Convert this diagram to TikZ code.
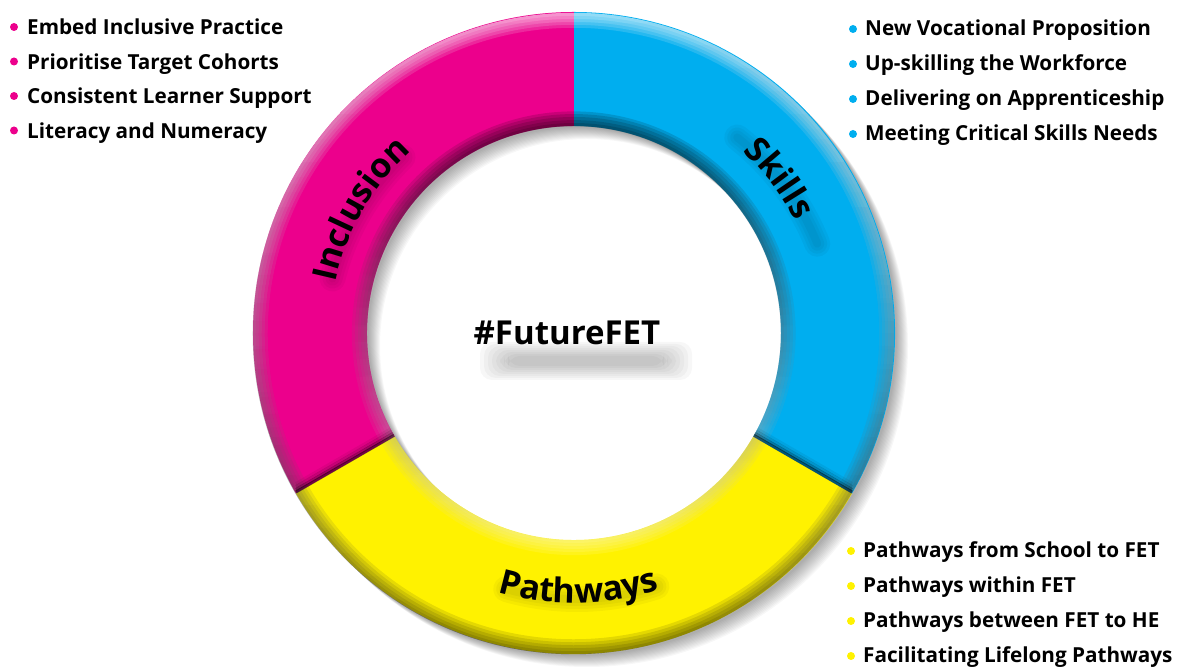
\documentclass[tikz,border=0pt]{standalone}
\usepackage{fontspec}
\setmainfont{Open Sans}
\usepackage{tikz}
\usetikzlibrary{calc}
\usetikzlibrary{fadings}
\usetikzlibrary{decorations.text}

\definecolor{inclpink}{HTML}{EC008C}
\definecolor{skillblue}{HTML}{00AEEF}
\definecolor{pathyellow}{HTML}{FFF200}
\tikzfading[name=fadetop,top color=transparent!0,middle color=transparent!100,bottom color=transparent!100]
\tikzfading[name=fadebottom,top color=transparent!100,middle color=transparent!100,bottom color=transparent!0]
\newcommand{\labelfont}{\bfseries\fontsize{34}{40}\selectfont}

\begin{document}
\begin{tikzpicture}[x=1pt,y=1pt,
		item/.style={anchor=base west,inner sep=0pt,font=\bfseries\fontsize{20.7}{25}\selectfont},
		dot/.style={circle,inner sep=0pt,minimum size=8pt},
		softshd/.style={black,opacity=.035,line cap=round}]
	\useasboundingbox (0,0) rectangle (1178,668);
	\coordinate (c) at (574,335);
	\def\Ro{321}\def\Ri{207}
	%%%%%%%%%%%%%%% shadow of the ring
	\foreach \s in {2,3,...,13}
		\fill[black,opacity=.03,even odd rule] ($(c)+(\s,-\s)$) circle[radius=\Ro] ($(c)+(\s,-\s)$) circle[radius=\Ri];
	%%%%%%%%%%%%%%% the three parts
	\foreach \col/\a/\b in {inclpink/90/210,pathyellow/210/330,skillblue/-30/90}
		\fill[\col] ($(c)+(\a:\Ro)$) arc[start angle=\a,end angle=\b,radius=\Ro]
			-- ($(c)+(\b:\Ri)$) arc[start angle=\b,end angle=\a,radius=\Ri] -- cycle;
	%%%%%%%%%%%%%%% bevel
	\foreach \w in {3,6,...,15}{
		\pgfmathsetmacro{\ro}{\Ro-\w}
		\pgfmathsetmacro{\ri}{\Ri+\w}
		\fill[white,fill opacity=.16,path fading=fadetop,even odd rule] (c) circle[radius=\Ro] (c) circle[radius=\ro];
		\fill[black,fill opacity=.11,path fading=fadebottom,even odd rule] (c) circle[radius=\Ro] (c) circle[radius=\ro];
		\fill[black,fill opacity=.14,path fading=fadetop,even odd rule] (c) circle[radius=\ri] (c) circle[radius=\Ri];
		\fill[white,fill opacity=.10,path fading=fadebottom,even odd rule] (c) circle[radius=\ri] (c) circle[radius=\Ri];
	}
	\begin{scope}[even odd rule]
		\clip (c) circle[radius=\Ro] (c) circle[radius=\Ri];
		\foreach \a in {210,-30}
			\foreach \d/\o in {1.5/.5,4/.3,7/.15,10/.06}
				\draw[line width=3pt,black,opacity=\o] ($(c)+(\a:\Ri)+(0,\d)$) -- ($(c)+(\a:\Ro)+(0,\d)$);
	\end{scope}
	%%%%%%%%%%%%%%% labels on the ring
	\foreach \w in {8,14,20,26}{
		\draw[softshd,line width=\w] ($(c)+(5,-7)+(166:254)$) arc[start angle=166,end angle=134,radius=254];
		\draw[softshd,line width=\w] ($(c)+(5,-7)+(52:257)$) arc[start angle=52,end angle=22,radius=257];
		\draw[softshd,line width=\w] ($(c)+(3,-9)+(-106:257)$) arc[start angle=-106,end angle=-72,radius=257];
	}
	\path[decorate,decoration={text along path,text align=center,text={|\labelfont|Inclusion}}]
		($(c)+(190:244)$) arc[start angle=190,end angle=110,radius=244];
	\path[decorate,decoration={text along path,text align=center,text={|\labelfont|Skills}}]
		($(c)+(77:248)$) arc[start angle=77,end angle=-3,radius=248];
	\path[decorate,decoration={text along path,text align=center,text={|\labelfont|Pathways}}]
		($(c)+(-130:270)$) arc[start angle=-130,end angle=-48,radius=270];
	%%%%%%%%%%%%%%% centre
	\foreach \k in {0,...,7}
		\fill[black,opacity=.03,rounded corners=12] ({480+4*\k},{288+2*\k}) rectangle ({692-4*\k},{326-2*\k});
	\node[anchor=base,font=\bfseries\fontsize{33}{38}\selectfont] (fet) at (567,323) {\#FutureFET};
	%%%%%%%%%%%%%%% lists
	\foreach \t [count=\i] in {Embed Inclusive Practice,Prioritise Target Cohorts,Consistent Learner Support,Literacy and Numeracy}{
		\node[item] (incl\i) at (27,{633-34.5*(\i-1)}) {\t};
		\node[dot,fill=inclpink] (incldot\i) at ($(incl\i.base west)+(-13,8)$) {};
	}
	\foreach \t [count=\i] in {New Vocational Proposition,Up-skilling the Workforce,Delivering on Apprenticeship,Meeting Critical Skills Needs}{
		\node[item] (skill\i) at (865,{632-35*(\i-1)}) {\t};
		\node[dot,fill=skillblue] (skilldot\i) at ($(skill\i.base west)+(-12,7)$) {};
	}
	\foreach \t [count=\i] in {Pathways from School to FET,Pathways within FET,Pathways between FET to HE,Facilitating Lifelong Pathways}{
		\node[item] (path\i) at (863,{110-35*(\i-1)}) {\t};
		\node[dot,fill=pathyellow] (pathdot\i) at ($(path\i.base west)+(-12,7)$) {};
	}
\end{tikzpicture}
\end{document}
